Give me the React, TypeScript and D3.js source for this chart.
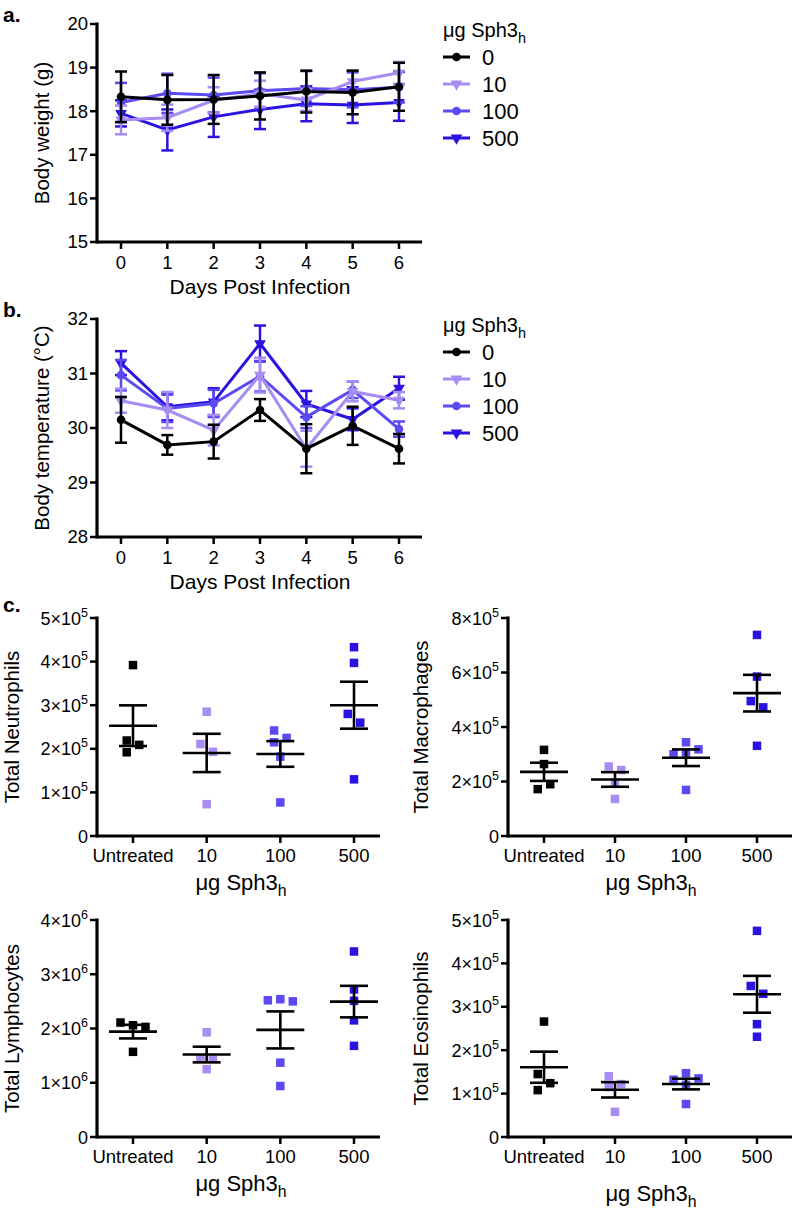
import React, { useEffect, useRef } from "react";
import * as d3 from "d3";

const FONT = "'Liberation Sans', Arial, Helvetica, sans-serif";

// ---------- panels a & b ----------
const days = [0, 1, 2, 3, 4, 5, 6];
const doses = ["0", "10", "100", "500"];
const doseColors = ["#000000", "#a68cf3", "#5b4af2", "#2a12e0"];
const doseMarkers = ["circle", "triangle", "circle", "triangle"];

const weight0 = [18.33, 18.26, 18.27, 18.35, 18.45, 18.43, 18.56];
const weight0Err = [0.58, 0.57, 0.56, 0.54, 0.48, 0.5, 0.55];
const weight10 = [17.8, 17.85, 18.25, 18.4, 18.26, 18.68, 18.88];
const weight10Err = [0.33, 0.3, 0.3, 0.3, 0.25, 0.25, 0.25];
const weight100 = [18.2, 18.41, 18.37, 18.47, 18.52, 18.49, 18.55];
const weight100Err = [0.45, 0.45, 0.4, 0.4, 0.4, 0.4, 0.35];
const weight500 = [17.95, 17.57, 17.87, 18.04, 18.17, 18.14, 18.2];
const weight500Err = [0.3, 0.47, 0.46, 0.45, 0.4, 0.41, 0.42];
const weightTicks = [15, 16, 17, 18, 19, 20];

const temp0 = [30.15, 29.69, 29.75, 30.33, 29.62, 30.04, 29.62];
const temp0Err = [0.42, 0.18, 0.31, 0.2, 0.45, 0.35, 0.27];
const temp10 = [30.5, 30.33, 29.96, 30.97, 29.62, 30.67, 30.51];
const temp10Err = [0.22, 0.33, 0.28, 0.32, 0.33, 0.18, 0.15];
const temp100 = [30.97, 30.36, 30.45, 30.95, 30.2, 30.7, 29.98];
const temp100Err = [0.28, 0.25, 0.25, 0.28, 0.2, 0.15, 0.14];
const temp500 = [31.19, 30.39, 30.48, 31.55, 30.44, 30.16, 30.73];
const temp500Err = [0.22, 0.25, 0.25, 0.33, 0.24, 0.2, 0.21];
const tempTicks = [28, 29, 30, 31, 32];

// ---------- panel c ----------
const groups = ["Untreated", "10", "100", "500"];

const neutrophils = [
  [3.92e5, 2.19e5, 1.92e5, 2.09e5],
  [2.85e5, 2.11e5, 1.93e5, 0.73e5],
  [2.42e5, 2.15e5, 2.25e5, 1.82e5, 0.77e5],
  [4.33e5, 3.97e5, 2.8e5, 2.6e5, 1.3e5],
];
const neutrophilTicks = [0, 1e5, 2e5, 3e5, 4e5, 5e5];

const macrophages = [
  [3.16e5, 2.64e5, 1.72e5, 1.9e5],
  [2.55e5, 2.42e5, 1.97e5, 1.36e5],
  [3.44e5, 3.18e5, 3.05e5, 3.0e5, 1.69e5],
  [7.38e5, 5.85e5, 4.95e5, 4.72e5, 3.31e5],
];
const macrophageTicks = [0, 2e5, 4e5, 6e5, 8e5];

const lymphocytes = [
  [2.06e6, 2.03e6, 2.11e6, 1.57e6],
  [1.93e6, 1.45e6, 1.45e6, 1.25e6],
  [2.54e6, 2.5e6, 2.52e6, 1.37e6, 0.94e6],
  [3.42e6, 2.72e6, 2.51e6, 2.15e6, 1.68e6],
];
const lymphocyteTicks = [0, 1e6, 2e6, 3e6, 4e6];

const eosinophils = [
  [2.66e5, 1.45e5, 1.24e5, 1.08e5],
  [1.4e5, 1.22e5, 1.15e5, 0.58e5],
  [1.47e5, 1.35e5, 1.32e5, 1.2e5, 0.76e5],
  [4.75e5, 3.48e5, 3.3e5, 2.6e5, 2.31e5],
];
const eosinophilTicks = [0, 1e5, 2e5, 3e5, 4e5, 5e5];

// appends "μg Sph3" with subscript h
function sphLabel(text, size) {
  text.append("tspan").text("μg Sph3");
  text.append("tspan").attr("font-size", size * 0.72).attr("dy", size * 0.28).text("h");
}

function drawLinePanel(svg, p) {
  const axisX = 97;
  const axisEnd = 422;
  const x = d3.scaleLinear().domain([0, 6]).range([121, 399]);
  const y = d3.scaleLinear().domain(p.yDomain).range([p.bottom, p.top]);
  const g = svg.append("g");

  g.append("text")
    .attr("x", 3).attr("y", p.top - 2)
    .attr("font-size", 21).attr("font-weight", "bold")
    .text(p.letter);

  // axes
  g.append("line")
    .attr("x1", axisX).attr("x2", axisX)
    .attr("y1", p.top - 1.5).attr("y2", p.bottom + 1.5)
    .attr("stroke", "#000").attr("stroke-width", 3.2);
  g.append("line")
    .attr("x1", axisX).attr("x2", axisEnd)
    .attr("y1", p.bottom).attr("y2", p.bottom)
    .attr("stroke", "#000").attr("stroke-width", 3.2);

  p.ticks.forEach(t => {
    g.append("line")
      .attr("x1", axisX - 7).attr("x2", axisX)
      .attr("y1", y(t)).attr("y2", y(t))
      .attr("stroke", "#000").attr("stroke-width", 2.5);
    g.append("text")
      .attr("x", axisX - 9).attr("y", y(t)).attr("dy", "0.35em")
      .attr("text-anchor", "end").attr("font-size", 18.5)
      .text(t);
  });
  days.forEach(d => {
    g.append("line")
      .attr("x1", x(d)).attr("x2", x(d))
      .attr("y1", p.bottom).attr("y2", p.bottom + 7)
      .attr("stroke", "#000").attr("stroke-width", 2.5);
    g.append("text")
      .attr("x", x(d)).attr("y", p.bottom + 27)
      .attr("text-anchor", "middle").attr("font-size", 18.5)
      .text(d);
  });

  g.append("text")
    .attr("x", 260).attr("y", p.bottom + 52)
    .attr("text-anchor", "middle").attr("font-size", 21)
    .text("Days Post Infection");
  g.append("text")
    .attr("transform", `translate(49,${(p.top + p.bottom) / 2}) rotate(-90)`)
    .attr("text-anchor", "middle").attr("font-size", 20.5)
    .text(p.yTitle);

  const line = d3.line().x((d, i) => x(days[i])).y(d => y(d));
  const tri = d3.symbol().type(d3.symbolTriangle).size(60);

  const drawMarker = (sel, i, cx, cy) => {
    if (doseMarkers[i] === "circle") {
      sel.append("circle").attr("cx", cx).attr("cy", cy).attr("r", 4.3).attr("fill", doseColors[i]);
    } else {
      sel.append("path").attr("d", tri())
        .attr("transform", `translate(${cx},${cy}) rotate(180)`)
        .attr("fill", doseColors[i]);
    }
  };

  // black drawn last so it sits on top
  [3, 2, 1, 0].forEach(i => {
    const means = p.means[i];
    const errs = p.errs[i];
    const s = g.append("g");
    s.append("path")
      .attr("d", line(means))
      .attr("fill", "none")
      .attr("stroke", doseColors[i])
      .attr("stroke-width", 3);
    means.forEach((m, k) => {
      const cx = x(days[k]);
      s.append("line")
        .attr("x1", cx).attr("x2", cx)
        .attr("y1", y(m - errs[k])).attr("y2", y(m + errs[k]))
        .attr("stroke", doseColors[i]).attr("stroke-width", 2.5);
      [m - errs[k], m + errs[k]].forEach(v => {
        s.append("line")
          .attr("x1", cx - 6).attr("x2", cx + 6)
          .attr("y1", y(v)).attr("y2", y(v))
          .attr("stroke", doseColors[i]).attr("stroke-width", 2.5);
      });
      drawMarker(s, i, cx, y(m));
    });
  });

  // legend
  const lg = g.append("g");
  const title = lg.append("text")
    .attr("x", 443).attr("y", p.top + 13)
    .attr("font-size", 20);
  sphLabel(title, 20);
  doses.forEach((d, i) => {
    const ly = p.top + 33 + i * 27;
    lg.append("line")
      .attr("x1", 443).attr("x2", 470)
      .attr("y1", ly).attr("y2", ly)
      .attr("stroke", doseColors[i]).attr("stroke-width", 3);
    drawMarker(lg, i, 456.5, ly);
    lg.append("text")
      .attr("x", 482).attr("y", ly).attr("dy", "0.35em")
      .attr("font-size", 22)
      .text(d);
  });
}

// simple beeswarm: spread points sideways when their squares would overlap,
// then centre each cluster of touching points on the category
function swarm(ys, size, step) {
  const placed = [];
  const offs = ys.map(py => {
    const offsets = [0];
    for (let k = 1; k < 6; k++) offsets.push(k * step, -k * step);
    const off = offsets.find(o =>
      placed.every(q => Math.abs(q.x - o) >= size || Math.abs(q.y - py) >= size)
    );
    placed.push({ x: off, y: py });
    return off;
  });
  const seen = ys.map(() => false);
  ys.forEach((_, i) => {
    if (seen[i]) return;
    const cluster = [i];
    seen[i] = true;
    for (let c = 0; c < cluster.length; c++) {
      ys.forEach((yy, j) => {
        if (!seen[j] && Math.abs(yy - ys[cluster[c]]) < size) {
          seen[j] = true;
          cluster.push(j);
        }
      });
    }
    if (cluster.length > 1) {
      const xs = cluster.map(j => offs[j]);
      const shift = (d3.min(xs) + d3.max(xs)) / 2;
      cluster.forEach(j => { offs[j] -= shift; });
    }
  });
  return offs;
}

function drawScatterPanel(svg, p) {
  const x = d3.scalePoint().domain(groups).range([p.firstX, p.lastX]);
  const y = d3.scaleLinear().domain([0, p.ticks[p.ticks.length - 1]]).range([p.bottom, p.top]);
  const g = svg.append("g");
  const exp = p.exp;

  if (p.letter) {
    g.append("text")
      .attr("x", 3).attr("y", p.top - 6)
      .attr("font-size", 21).attr("font-weight", "bold")
      .text(p.letter);
  }

  g.append("line")
    .attr("x1", p.axisX).attr("x2", p.axisX)
    .attr("y1", p.top - 1.5).attr("y2", p.bottom + 1.5)
    .attr("stroke", "#000").attr("stroke-width", 3.2);
  g.append("line")
    .attr("x1", p.axisX).attr("x2", p.axisEnd)
    .attr("y1", p.bottom).attr("y2", p.bottom)
    .attr("stroke", "#000").attr("stroke-width", 3.2);

  p.ticks.forEach(t => {
    g.append("line")
      .attr("x1", p.axisX - 7).attr("x2", p.axisX)
      .attr("y1", y(t)).attr("y2", y(t))
      .attr("stroke", "#000").attr("stroke-width", 2.5);
    const label = g.append("text")
      .attr("x", p.axisX - 9).attr("y", y(t) + 6.5)
      .attr("text-anchor", "end").attr("font-size", 18);
    if (t === 0) {
      label.text("0");
    } else {
      label.append("tspan").text(`${Math.round(t / Math.pow(10, exp))}×10`);
      label.append("tspan").attr("font-size", 12.5).attr("dy", -8).text(exp);
    }
  });

  groups.forEach(c => {
    g.append("line")
      .attr("x1", x(c)).attr("x2", x(c))
      .attr("y1", p.bottom).attr("y2", p.bottom + 7)
      .attr("stroke", "#000").attr("stroke-width", 2.5);
    g.append("text")
      .attr("x", x(c)).attr("y", p.bottom + 26)
      .attr("text-anchor", "middle").attr("font-size", 18.5)
      .text(c);
  });

  const xt = g.append("text")
    .attr("x", p.titleX).attr("y", p.bottom + p.titleDy)
    .attr("text-anchor", "middle").attr("font-size", 22);
  sphLabel(xt, 22);

  g.append("text")
    .attr("transform", `translate(${p.yTitleX},${(p.top + p.bottom) / 2}) rotate(-90)`)
    .attr("text-anchor", "middle").attr("font-size", 20.5)
    .text(p.yTitle);

  const sq = 8.5;
  p.values.forEach((vals, i) => {
    const cx = x(groups[i]);
    const offs = swarm(vals.map(v => y(v)), 10, 12.5);
    vals.forEach((v, k) => {
      g.append("rect")
        .attr("x", cx + offs[k] - sq / 2).attr("y", y(v) - sq / 2)
        .attr("width", sq).attr("height", sq)
        .attr("fill", doseColors[i]);
    });

    const mean = d3.mean(vals);
    const sem = d3.deviation(vals) / Math.sqrt(vals.length);
    const bar = g.append("g").attr("stroke", "#000").attr("stroke-width", 2.6);
    bar.append("line")
      .attr("x1", cx - 24).attr("x2", cx + 24)
      .attr("y1", y(mean)).attr("y2", y(mean));
    bar.append("line")
      .attr("x1", cx).attr("x2", cx)
      .attr("y1", y(mean - sem)).attr("y2", y(mean + sem));
    [mean - sem, mean + sem].forEach(v => {
      bar.append("line")
        .attr("x1", cx - 14).attr("x2", cx + 14)
        .attr("y1", y(v)).attr("y2", y(v));
    });
  });
}

export default function App() {
  const ref = useRef(null);

  useEffect(() => {
    const svg = d3.select(ref.current);
    svg.selectAll("*").remove();

    drawLinePanel(svg, {
      letter: "a.",
      top: 24,
      bottom: 242,
      yDomain: [15, 20],
      ticks: weightTicks,
      yTitle: "Body weight (g)",
      means: [weight0, weight10, weight100, weight500],
      errs: [weight0Err, weight10Err, weight100Err, weight500Err],
    });

    drawLinePanel(svg, {
      letter: "b.",
      top: 319,
      bottom: 537,
      yDomain: [28, 32],
      ticks: tempTicks,
      yTitle: "Body temperature (°C)",
      means: [temp0, temp10, temp100, temp500],
      errs: [temp0Err, temp10Err, temp100Err, temp500Err],
    });

    const left = { axisX: 97, axisEnd: 380, firstX: 133, lastX: 354, titleX: 241, yTitleX: 19 };
    const right = { axisX: 508, axisEnd: 792, firstX: 544, lastX: 757, titleX: 651, yTitleX: 428 };

    drawScatterPanel(svg, {
      ...left, letter: "c.", top: 618, bottom: 836, titleDy: 54,
      ticks: neutrophilTicks, exp: 5, yTitle: "Total Neutrophils", values: neutrophils,
    });
    drawScatterPanel(svg, {
      ...right, top: 618, bottom: 836, titleDy: 54,
      ticks: macrophageTicks, exp: 5, yTitle: "Total Macrophages", values: macrophages,
    });
    drawScatterPanel(svg, {
      ...left, top: 920, bottom: 1137, titleDy: 54,
      ticks: lymphocyteTicks, exp: 6, yTitle: "Total Lymphocytes", values: lymphocytes,
    });
    drawScatterPanel(svg, {
      ...right, top: 920, bottom: 1137, titleDy: 64,
      ticks: eosinophilTicks, exp: 5, yTitle: "Total Eosinophils", values: eosinophils,
    });
  }, []);

  return (
    <div style={{ position: "absolute", left: 0, top: 0 }}>
      <svg
        ref={ref}
        width={796}
        height={1212}
        style={{ display: "block", background: "#fff", fontFamily: FONT }}
      />
    </div>
  );
}
